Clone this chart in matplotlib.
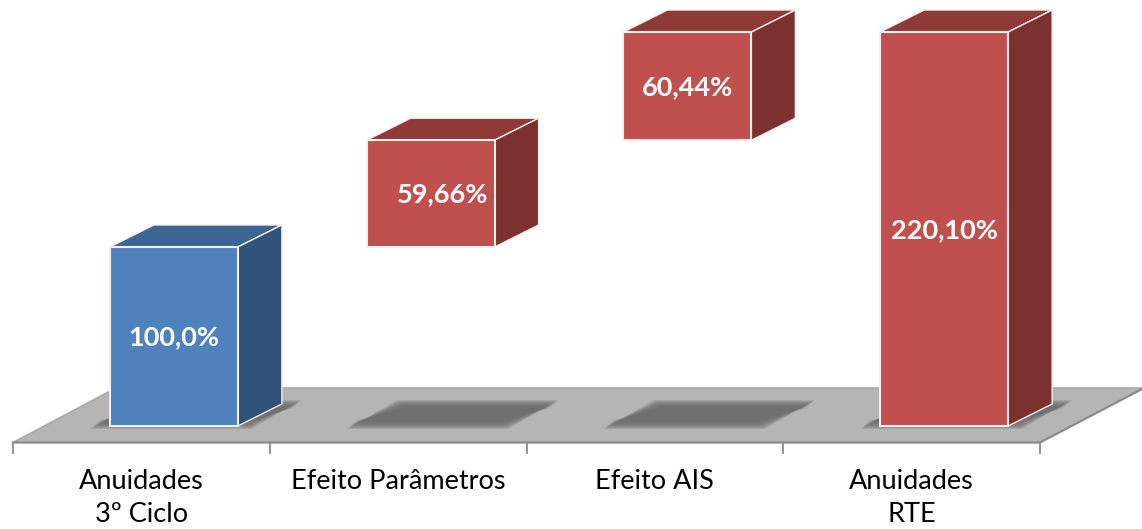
import numpy as np
import matplotlib
matplotlib.use("Agg")
import matplotlib.pyplot as plt
from matplotlib.patches import Polygon

categories = ["Anuidades\n3º Ciclo", "Efeito Parâmetros", "Efeito AIS", "Anuidades\nRTE"]
bar_values = [100.0, 59.66, 60.44, 220.10]
bar_bottoms = [0.0, 100.0, 159.66, 0.0]
value_labels = ["100,0%", "59,66%", "60,44%", "220,10%"]
palettes = ["blue", "red", "red", "red"]

COLORS = {
    "blue": {"front": "#4f81bd", "side": "#31527a", "top": "#3b6593"},
    "red": {"front": "#c0504d", "side": "#7c3130", "top": "#903a38"},
}

W, H = 1142, 529
CAT_PX = 256.75      # pixels per category slot
VAL_PX = 1.79        # pixels per percentage point
LEFT_PX, BASE_PX = 13.0, 426.0

fig = plt.figure(figsize=(W / 100, H / 100), dpi=100)
ax = fig.add_axes([0, 0, 1, 1])
ax.set_xlim(-0.5 - LEFT_PX / CAT_PX, -0.5 + (W - LEFT_PX) / CAT_PX)
ax.set_ylim(-(H - BASE_PX) / VAL_PX, BASE_PX / VAL_PX)
ax.axis("off")
plt.rcParams["font.family"] = ["Lato", "DejaVu Sans"]

dx = lambda px: px / CAT_PX
dy = lambda px: px / VAL_PX

# Floor of the 3D plot
front_y = dy(-16.5)
back_y = dy(38)
floor = [(-0.5, front_y), (3.5, front_y),
         (3.5 + dx(104), back_y), (-0.5 + dx(103), back_y)]
ax.add_patch(Polygon(floor, closed=True, fc="#b5b5b5", ec="none", zorder=1))
ax.plot([floor[0][0], floor[3][0], floor[2][0]],
        [floor[0][1], floor[3][1], floor[2][1]], color="#a8a8a8", lw=1.2, zorder=1.2)
ax.plot([floor[0][0], floor[1][0], floor[2][0]],
        [floor[0][1], floor[1][1], floor[2][1]], color="#8a8a8a", lw=1.6, zorder=1.2)

# Category ticks under the floor
for edge in [-0.5, 0.5, 1.5, 2.5, 3.5]:
    ax.plot([edge, edge], [front_y, front_y - dy(10)], color="#8a8a8a", lw=1.3, zorder=1.2)

bar_width = 128 / CAT_PX
bar_shift = 32.5 / CAT_PX
depth_x, depth_y = dx(44), dy(22)

for i, (bottom, value, name) in enumerate(zip(bar_bottoms, bar_values, palettes)):
    left = i + bar_shift - bar_width / 2
    right = left + bar_width
    top = bottom + value
    c = COLORS[name]

    # Soft floor shadow, built from many faint stacked layers
    sl, sb, st = left - dx(15.5), dy(1), dy(22)
    sw, sk = dx(153), dx(50)
    grows = np.arange(4.0, -4.5, -0.75)
    for g in grows:
        shadow = [(sl - dx(g), sb - dy(g)), (sl + sw + dx(g), sb - dy(g)),
                  (sl + sw + sk + dx(g), st + dy(g)), (sl + sk - dx(g), st + dy(g))]
        ax.add_patch(Polygon(shadow, closed=True, fc="#6c6c6c", ec="none",
                             alpha=0.2, zorder=1.5))

    # Three visible faces of the box
    front = [(left, bottom), (right, bottom), (right, top), (left, top)]
    side = [(right, bottom), (right + depth_x, bottom + depth_y),
            (right + depth_x, top + depth_y), (right, top)]
    cap = [(left, top), (right, top), (right + depth_x, top + depth_y), (left + depth_x, top + depth_y)]
    ax.add_patch(Polygon(cap, closed=True, fc=c["top"], ec="#f4eeee", lw=1.0, zorder=3 + i))
    ax.add_patch(Polygon(side, closed=True, fc=c["side"], ec="#f4eeee", lw=1.0, zorder=3 + i))
    ax.add_patch(Polygon(front, closed=True, fc=c["front"], ec="#f4eeee", lw=1.5, zorder=3 + i))

    # 59,66% sits a little right of its box centre
    nudge = dx(12) if i == 1 else 0
    ax.text((left + right) / 2 + nudge, bottom + value / 2 - dy(1), value_labels[i],
            color="white", fontsize=19.5, fontweight="bold", ha="center", va="center", zorder=10)

# Category labels beneath the floor
for i, label in enumerate(categories):
    ax.text(i, dy(-43), label, ha="center", va="top", fontsize=19.5,
            color="black", linespacing=1.42, zorder=10)

fig.savefig("out.png", dpi=100, facecolor="white")
